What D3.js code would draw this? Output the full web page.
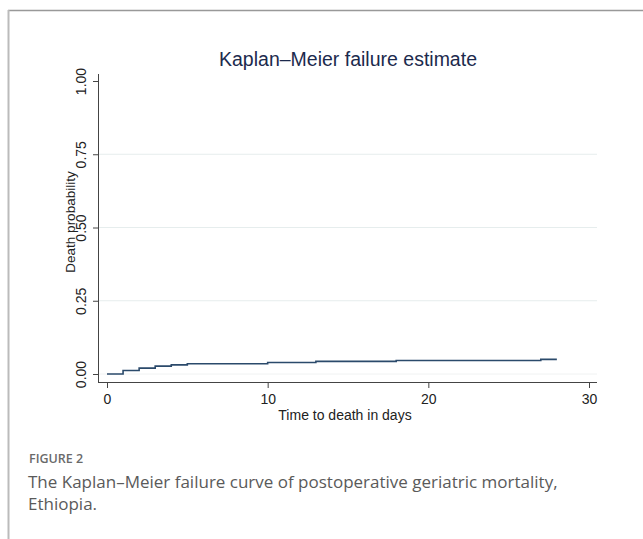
<!DOCTYPE html>
<html>
  <head>
    <meta charset="UTF-8">
    <title>Kaplan-Meier failure estimate</title>
    <script src="https://d3js.org/d3.v7.min.js"></script>
    <style>
      body { margin: 0; background: #fff; }
    </style>
  </head>
  <body>
    <svg width="643" height="539"></svg>

    <script>

// step times (days) and the failure probability reached at each step
const times = [0, 1, 2, 3, 4, 5, 10, 13, 18, 27];
const failure = [0, 0.012, 0.020, 0.027, 0.031, 0.035, 0.039, 0.043, 0.046, 0.050];
const lastTime = 28;

const xTicks = [0, 10, 20, 30];
const yTicks = [0, 0.25, 0.5, 0.75, 1];

const svg = d3.select("svg");

// frame lines of the figure box
svg.append("line")
  .attr("x1", 8).attr("x2", 643).attr("y1", 10.5).attr("y2", 10.5)
  .attr("stroke", "#999").attr("stroke-width", 1.5);
svg.append("line")
  .attr("x1", 8.5).attr("x2", 8.5).attr("y1", 10).attr("y2", 539)
  .attr("stroke", "#bbb").attr("stroke-width", 2);

const x = d3.scaleLinear().domain([0, 30]).range([107, 589]);
const y = d3.scaleLinear().domain([0, 1]).range([374, 81]);

// gridlines
svg.append("g")
  .selectAll("line")
  .data(yTicks.filter(d => d < 1))
  .join("line")
  .attr("x1", 99).attr("x2", 597)
  .attr("y1", d => y(d)).attr("y2", d => y(d))
  .attr("stroke", d => d === 0 ? "#f0f2f2" : "#e6eded")
  .attr("stroke-width", 1);

// axes
const xAxis = svg.append("g")
  .attr("transform", "translate(0,382)")
  .call(d3.axisBottom(x).tickValues(xTicks).tickFormat(d3.format("d")).tickSize(6).tickSizeOuter(0));
xAxis.select(".domain").attr("d", "M98,0.5H597").attr("stroke", "#444");
xAxis.selectAll(".tick line").attr("stroke", "#444");
xAxis.selectAll("text")
  .attr("font-family", "Liberation Sans, Arial, sans-serif")
  .attr("font-size", 14).attr("fill", "#222").attr("dy", "0.9em");

const yAxis = svg.append("g")
  .attr("transform", "translate(98,0)")
  .call(d3.axisLeft(y).tickValues(yTicks).tickFormat(d3.format(".2f")).tickSize(5).tickSizeOuter(0));
yAxis.select(".domain").attr("d", "M0.5,74V382").attr("stroke", "#444");
yAxis.selectAll(".tick line").attr("stroke", "#444");
yAxis.selectAll("text")
  .attr("font-family", "Liberation Sans, Arial, sans-serif")
  .attr("font-size", 14).attr("fill", "#222")
  .attr("text-anchor", "middle")
  .attr("x", 0).attr("dy", 0)
  .attr("transform", "translate(-12,0) rotate(-90)");

// step curve
const pts = times.map((t, i) => [t, failure[i]]);
pts.push([lastTime, failure[failure.length - 1]]);
const line = d3.line()
  .x(d => x(d[0]))
  .y(d => y(d[1]))
  .curve(d3.curveStepAfter);

svg.append("path")
  .datum(pts)
  .attr("d", line)
  .attr("fill", "none")
  .attr("stroke", "#2b4a6b")
  .attr("stroke-width", 1.6);

// titles
svg.append("text")
  .attr("x", 348).attr("y", 66)
  .attr("text-anchor", "middle")
  .attr("font-family", "Liberation Sans, Arial, sans-serif")
  .attr("font-size", 19.5)
  .attr("fill", "#1c2a4d")
  .text("Kaplan–Meier failure estimate");

svg.append("text")
  .attr("x", 345).attr("y", 420)
  .attr("text-anchor", "middle")
  .attr("font-family", "Liberation Sans, Arial, sans-serif")
  .attr("font-size", 14)
  .attr("fill", "#222")
  .text("Time to death in days");

svg.append("text")
  .attr("transform", "translate(75,222) rotate(-90)")
  .attr("text-anchor", "middle")
  .attr("font-family", "Liberation Sans, Arial, sans-serif")
  .attr("font-size", 13.5)
  .attr("fill", "#222")
  .text("Death probability");

// caption
svg.append("text")
  .attr("x", 29).attr("y", 463)
  .attr("font-family", "Open Sans, sans-serif")
  .attr("font-size", 12.5)
  .attr("font-weight", 600)
  .attr("fill", "#6a6a6a")
  .text("FIGURE 2");

const caption = ["The Kaplan–Meier failure curve of postoperative geriatric mortality,", "Ethiopia."];
svg.append("g")
  .selectAll("text")
  .data(caption)
  .join("text")
  .attr("x", 28).attr("y", (d, i) => 488 + i * 22)
  .attr("font-family", "Open Sans, sans-serif")
  .attr("font-size", 17)
  .attr("fill", "#5a5a5a")
  .text(d => d);

    </script>
  </body>
</html>
